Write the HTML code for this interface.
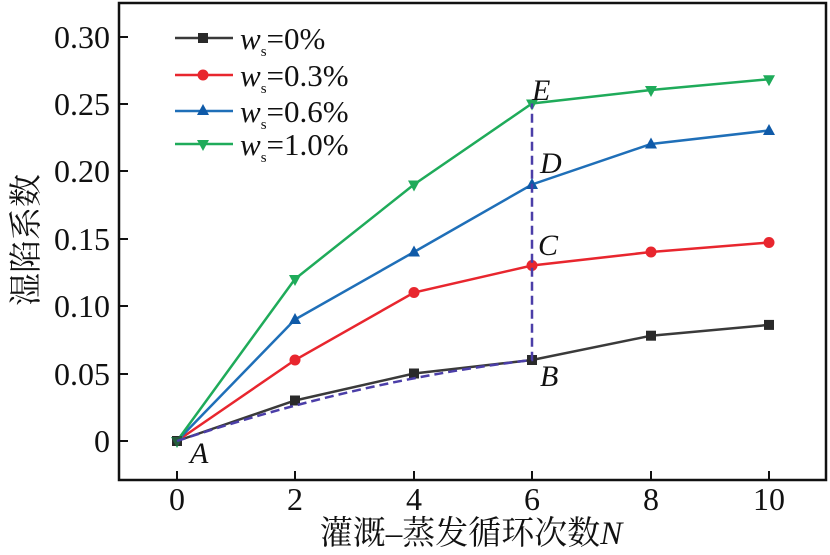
<!DOCTYPE html>
<html><head><meta charset="utf-8"><style>
body{margin:0;background:#fff}
svg text{font-family:"Liberation Serif","Noto Serif CJK SC",serif;fill:#111}
</style></head><body>
<svg width="830" height="550" viewBox="0 0 830 550" xmlns="http://www.w3.org/2000/svg">
<rect x="119" y="3" width="707" height="477" fill="none" stroke="#111" stroke-width="2.5"/>
<g stroke="#111" stroke-width="2">
<line x1="119" y1="37" x2="128" y2="37"/><line x1="119" y1="104" x2="128" y2="104"/><line x1="119" y1="171" x2="128" y2="171"/><line x1="119" y1="239" x2="128" y2="239"/><line x1="119" y1="306" x2="128" y2="306"/><line x1="119" y1="374" x2="128" y2="374"/><line x1="119" y1="441" x2="128" y2="441"/>
<line x1="177" y1="480" x2="177" y2="471"/><line x1="295" y1="480" x2="295" y2="471"/><line x1="414" y1="480" x2="414" y2="471"/><line x1="532" y1="480" x2="532" y2="471"/><line x1="651" y1="480" x2="651" y2="471"/><line x1="769" y1="480" x2="769" y2="471"/>
</g>
<g font-size="32" text-anchor="end">
<text x="110" y="48">0.30</text><text x="110" y="115">0.25</text><text x="110" y="182">0.20</text><text x="110" y="250">0.15</text><text x="110" y="317">0.10</text><text x="110" y="385">0.05</text><text x="110" y="452">0</text>
</g>
<g font-size="32" text-anchor="middle">
<text x="177" y="510">0</text><text x="295" y="510">2</text><text x="414" y="510">4</text><text x="532" y="510">6</text><text x="651" y="510">8</text><text x="769" y="510">10</text>
</g>
<text x="471" y="544" font-size="33" text-anchor="middle">灌溉–蒸发循环次数<tspan font-style="italic">N</tspan></text>
<text transform="translate(37,240) rotate(-90)" font-size="33" text-anchor="middle">湿陷系数</text>
<polyline fill="none" stroke="#3a3a3a" stroke-width="2.5" points="177,441 295,400.5 414,373.5 532,360 651,335.7 769,324.9"/>
<g fill="#2a2a2a"><rect x="172" y="436" width="10" height="10"/><rect x="290" y="395.5" width="10" height="10"/><rect x="409" y="368.5" width="10" height="10"/><rect x="527" y="355" width="10" height="10"/><rect x="646" y="330.7" width="10" height="10"/><rect x="764" y="319.9" width="10" height="10"/></g>
<polyline fill="none" stroke="#e8262e" stroke-width="2.5" points="177,441 295,360 414,292.5 532,265.5 651,252 769,242.5"/>
<g fill="#e8262e"><circle cx="295" cy="360" r="5.5"/><circle cx="414" cy="292.5" r="5.5"/><circle cx="532" cy="265.5" r="5.5"/><circle cx="651" cy="252" r="5.5"/><circle cx="769" cy="242.5" r="5.5"/></g>
<polyline fill="none" stroke="#1f6fb8" stroke-width="2.5" points="177,441 295,319.5 414,252 532,184.5 651,144 769,130.5"/>
<g fill="#0f5aa8"><path d="M295,313 l6,11 h-12z"/><path d="M414,245.5 l6,11 h-12z"/><path d="M532,178 l6,11 h-12z"/><path d="M651,137.5 l6,11 h-12z"/><path d="M769,124 l6,11 h-12z"/></g>
<polyline fill="none" stroke="#1fab5a" stroke-width="2.5" points="177,441 295,279 414,184.5 532,103.5 651,90 769,79.2"/>
<g fill="#1fab5a"><path d="M295,286 l6,-11 h-12z"/><path d="M414,191.5 l6,-11 h-12z"/><path d="M532,110.5 l6,-11 h-12z"/><path d="M651,97 l6,-11 h-12z"/><path d="M769,86.2 l6,-11 h-12z"/><path d="M177,448 l6,-11 h-12z"/></g>
<rect x="172" y="436" width="10" height="10" fill="#2a2a2a" opacity="0.6"/>
<path d="M177,441 Q360,380 532,360 L532,103.5" fill="none" stroke="#4b3ea8" stroke-width="2.5" stroke-dasharray="9,5"/>
<g font-size="30" font-style="italic">
<text x="190" y="463">A</text><text x="540" y="386">B</text><text x="538" y="255">C</text><text x="540" y="173">D</text><text x="532" y="100">E</text>
</g>
<g stroke-width="2.5">
<line x1="175" y1="38" x2="233" y2="38" stroke="#3a3a3a"/><rect x="198" y="33" width="10" height="10" fill="#2a2a2a"/>
<line x1="175" y1="75" x2="233" y2="75" stroke="#e8262e"/><circle cx="203" cy="75" r="5.5" fill="#e8262e"/>
<line x1="175" y1="111" x2="233" y2="111" stroke="#1f6fb8"/><path d="M203,104 l6,11 h-12z" fill="#0f5aa8"/>
<line x1="175" y1="144" x2="233" y2="144" stroke="#1fab5a"/><path d="M203,151 l6,-11 h-12z" fill="#1fab5a"/>
</g>
<g font-size="31">
<text x="240" y="49"><tspan font-style="italic">w</tspan><tspan font-size="15" dy="7">s</tspan><tspan dy="-7">=0%</tspan></text>
<text x="240" y="86"><tspan font-style="italic">w</tspan><tspan font-size="15" dy="7">s</tspan><tspan dy="-7">=0.3%</tspan></text>
<text x="240" y="122"><tspan font-style="italic">w</tspan><tspan font-size="15" dy="7">s</tspan><tspan dy="-7">=0.6%</tspan></text>
<text x="240" y="155"><tspan font-style="italic">w</tspan><tspan font-size="15" dy="7">s</tspan><tspan dy="-7">=1.0%</tspan></text>
</g>
</svg>
</body></html>
